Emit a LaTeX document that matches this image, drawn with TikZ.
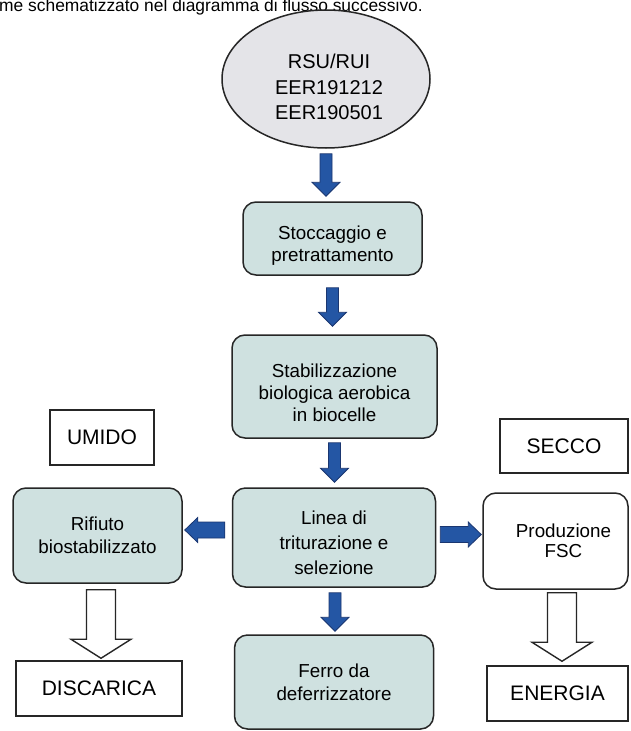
\documentclass[tikz,border=0pt]{standalone}
\usepackage{fontspec}
\setmainfont{Liberation Sans}
\usetikzlibrary{calc,shapes.geometric}
\definecolor{boxfill}{HTML}{CFE1E0}
\definecolor{ellfill}{HTML}{E4E4E8}
\definecolor{arrowblue}{HTML}{2456A4}
\definecolor{arrowedge}{HTML}{1A3670}
\definecolor{edgecol}{HTML}{262626}
\newcommand\procfont{\fontsize{18.8}{22}\selectfont}
\newcommand\labfont{\fontsize{21}{25}\selectfont}
\begin{document}
\begin{tikzpicture}[x=1pt,y=-1pt,
  procbox/.style={draw=edgecol, line width=1.5pt, fill=boxfill, rounded corners=13pt, inner sep=0pt},
  ptext/.style={align=center, inner sep=0pt, font=\procfont},
  labbox/.style={draw=edgecol, line width=1.5pt, fill=white, inner sep=0pt, font=\labfont},
  ellnode/.style={ellipse, draw=edgecol, line width=1.5pt, fill=ellfill, inner sep=0pt},
  downblue/.style={fill=arrowblue, draw=arrowedge, line width=0.8pt, line join=miter,
    to path={let \p1=(\tikztostart), \p2=(\tikztotarget) in
      (\x1-6pt,\y1) -- (\x1+6pt,\y1) -- (\x1+6pt,\y2+14pt) -- (\x1+14pt,\y2+14pt)
      -- (\x1,\y2) -- (\x1-14pt,\y2+14pt) -- (\x1-6pt,\y2+14pt) -- cycle}},
  leftblue/.style={fill=arrowblue, draw=arrowedge, line width=0.8pt, line join=miter,
    to path={let \p1=(\tikztostart), \p2=(\tikztotarget) in
      (\x1,\y1-8pt) -- (\x1,\y1+8pt) -- (\x2+13pt,\y1+8pt) -- (\x2+13pt,\y1+12.5pt)
      -- (\x2,\y1) -- (\x2+13pt,\y1-12.5pt) -- (\x2+13pt,\y1-8pt) -- cycle}},
  rightblue/.style={fill=arrowblue, draw=arrowedge, line width=0.8pt, line join=miter,
    to path={let \p1=(\tikztostart), \p2=(\tikztotarget) in
      (\x1,\y1-8pt) -- (\x1,\y1+8pt) -- (\x2-13pt,\y1+8pt) -- (\x2-13pt,\y1+12.5pt)
      -- (\x2,\y1) -- (\x2-13pt,\y1-12.5pt) -- (\x2-13pt,\y1-8pt) -- cycle}},
  downhollow/.style={fill=white, draw=edgecol, line width=1.4pt, line join=miter,
    to path={let \p1=(\tikztostart), \p2=(\tikztotarget) in
      (\x1-14.5pt,\y1) -- (\x1+14.5pt,\y1) -- (\x1+14.5pt,\y2+19pt) -- (\x1+30pt,\y2+19pt)
      -- (\x1,\y2) -- (\x1-30pt,\y2+19pt) -- (\x1-14.5pt,\y2+19pt) -- cycle}}
]
\useasboundingbox (0,0) rectangle (630,731);
\clip (0,0) rectangle (630,731);
\fill[white] (0,0) rectangle (630,731);

% partial sentence at the top edge
\node[anchor=base west, inner sep=0pt, font=\fontsize{17.4}{20}\selectfont] (intro) at (-1,11)
  {me schematizzato nel diagramma di flusso successivo.};

% source ellipse
\node[ellnode, minimum width=208pt, minimum height=138pt] (src) at (326,79) {};
\node[ptext, font=\fontsize{20}{25.8}\selectfont] (srct) at ([xshift=3pt,yshift=-8pt]src.center)
  {RSU/RUI\\EER191212\\EER190501};

% central column
\node[procbox, minimum width=179pt, minimum height=73pt] (sto) at (332.5,238.5) {};
\node[ptext] (stot) at ([yshift=-7pt]sto.center) {Stoccaggio e\\pretrattamento};

\node[procbox, minimum width=205pt, minimum height=103pt] (stab) at (334.5,386.5) {};
\node[ptext] (stabt) at ([yshift=-6pt]stab.center) {Stabilizzazione\\biologica aerobica\\in biocelle};

\node[procbox, minimum width=203pt, minimum height=99pt] (lin) at (334,537.5) {};
\node[ptext, font=\fontsize{18.8}{25}\selectfont] (lint) at ([yshift=-5pt]lin.center) {Linea di\\triturazione e\\selezione};

\node[procbox, minimum width=199pt, minimum height=94pt] (fer) at (334,682) {};
\node[ptext, font=\fontsize{18.8}{23}\selectfont] (fert) at (fer.center) {Ferro da\\deferrizzatore};

% left branch
\node[labbox, minimum width=104pt, minimum height=55pt] (umi) at (102,437.5) {UMIDO};
\node[procbox, minimum width=169pt, minimum height=95pt] (rif) at (97.5,535.5) {};
\node[ptext, font=\fontsize{18.8}{23.5}\selectfont] (rift) at (rif.center) {Rifiuto\\biostabilizzato};
\node[labbox, minimum width=166pt, minimum height=55pt] (dis) at (99,688.5) {DISCARICA};

% right branch
\node[labbox, minimum width=128pt, minimum height=54pt] (sec) at (564,446) {SECCO};
\node[procbox, fill=white, minimum width=145pt, minimum height=96pt] (fsc) at (555.5,541) {};
\node[ptext, font=\fontsize{18.8}{20.5}\selectfont] (fsct) at ([xshift=8pt]fsc.center) {Produzione\\FSC};
\node[labbox, minimum width=141pt, minimum height=55pt] (ene) at (557.5,693.5) {ENERGIA};

% blue arrows
\draw[downblue] ([yshift=-5pt]src.south) to ([yshift=5pt]sto.north);
\draw[downblue] ([yshift=-12pt]sto.south) to ([yshift=8pt]stab.north);
\draw[downblue] ([yshift=-4pt]stab.south) to ([yshift=5pt]lin.north);
\draw[downblue] ([xshift=1pt,yshift=-5pt]lin.south) to ([xshift=1pt,yshift=3pt]fer.north);
\draw[leftblue] ([xshift=-7pt,yshift=7.5pt]lin.west) to ([xshift=2pt]rif.east);
\draw[rightblue] ([xshift=4pt,yshift=3pt]lin.east) to ([xshift=-1pt]fsc.west);

% hollow arrows
\draw[downhollow] ([xshift=3.5pt,yshift=-6pt]rif.south) to ([xshift=3.5pt,yshift=2pt]dis.north);
\draw[downhollow] ([xshift=6.5pt,yshift=-3pt]fsc.south) to ([xshift=6.5pt,yshift=4pt]ene.north);
\end{tikzpicture}
\end{document}
